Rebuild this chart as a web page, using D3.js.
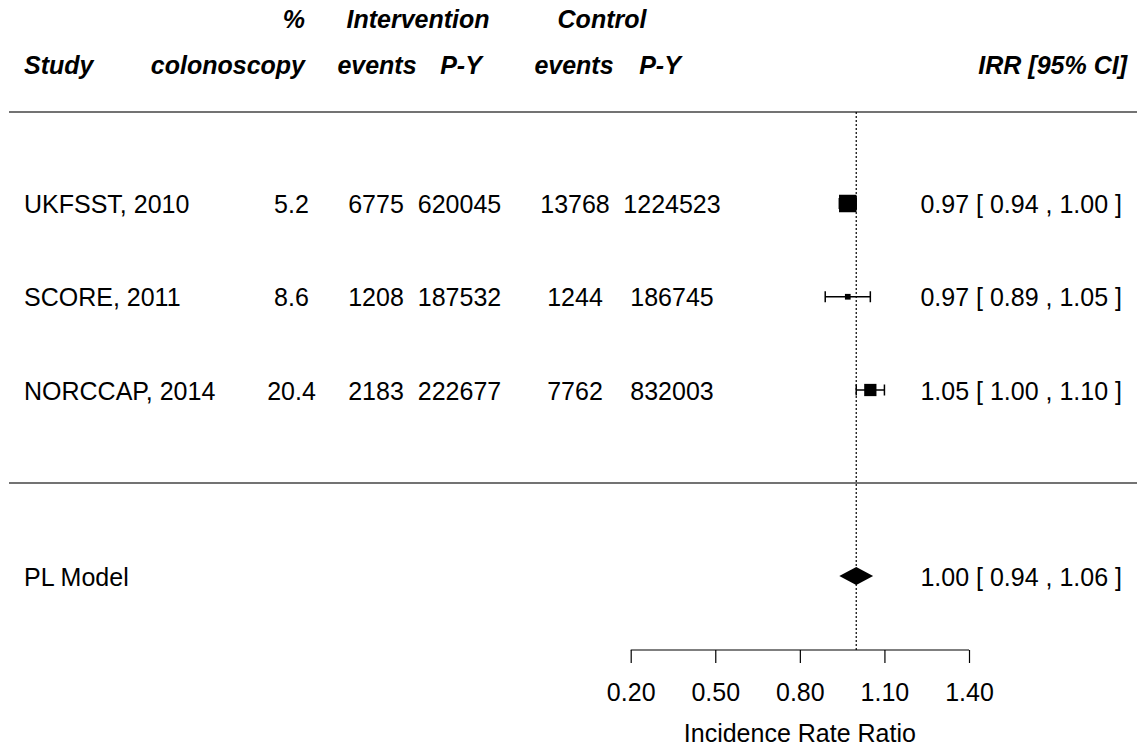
<!DOCTYPE html>
<html>
<head>
<meta charset="utf-8">
<script src="https://cdn.jsdelivr.net/npm/d3@7"></script>
<style>
  html, body { margin: 0; padding: 0; background: #fff; }
  svg { display: block; font-family: "Liberation Sans", Arial, sans-serif; }
</style>
</head>
<body>
<svg id="chart" width="1137" height="748"></svg>
<script>
// ---------------- data ----------------
const studies      = ["UKFSST, 2010", "SCORE, 2011", "NORCCAP, 2014"];
const pctColono    = ["5.2", "8.6", "20.4"];
const intEvents    = [6775, 1208, 2183];
const intPY        = [620045, 187532, 222677];
const ctrlEvents   = [13768, 1244, 7762];
const ctrlPY       = [1224523, 186745, 832003];
const irr          = [0.97, 0.97, 1.05];
const ciLow        = [0.94, 0.89, 1.00];
const ciHigh       = [1.00, 1.05, 1.10];
const weights      = [42, 24, 34];          // relative study weights (estimated)
const pooledLabel  = "PL Model";
const pooled       = { est: 1.00, lb: 0.94, ub: 1.06 };
const xTicks       = [0.20, 0.50, 0.80, 1.10, 1.40];
const xTitle       = "Incidence Rate Ratio";
const refValue     = 1;

// ---------------- layout ----------------
const svg = d3.select("#chart");
const FS = 25;
const x = d3.scaleLinear().domain([0.2, 1.4]).range([630.7, 969]);
const rowY = d3.scaleLinear().domain([0, 2]).range([203.5, 390]);
const pooledY = 576;
const size = d3.scaleLinear().domain(d3.extent(weights)).range([5.7, 17.5]);
const fmt2 = d3.format(".2f");

// header
const hdr = svg.append("g").attr("font-size", FS).attr("font-weight", "bold").attr("font-style", "italic").attr("fill", "#000");
const headerItems = [
  { t: "%", x: 305, y: 28, a: "end" },
  { t: "Intervention", x: 418, y: 28, a: "middle" },
  { t: "Control", x: 602, y: 28, a: "middle" },
  { t: "Study", x: 24, y: 74, a: "start" },
  { t: "colonoscopy", x: 305, y: 74, a: "end" },
  { t: "events", x: 377, y: 74, a: "middle" },
  { t: "P-Y", x: 461, y: 74, a: "middle" },
  { t: "events", x: 574, y: 74, a: "middle" },
  { t: "P-Y", x: 660, y: 74, a: "middle" },
  { t: "IRR [95% CI]", x: 1127, y: 74, a: "end" }
];
hdr.selectAll("text").data(headerItems).join("text")
  .attr("x", d => d.x).attr("y", d => d.y).attr("text-anchor", d => d.a).text(d => d.t);

// separator lines
svg.selectAll("line.sep").data([112, 483]).join("line").attr("class", "sep")
  .attr("x1", 9).attr("x2", 1137).attr("y1", d => d).attr("y2", d => d)
  .attr("stroke", "#444").attr("stroke-width", 1.5);

// reference line
svg.append("line")
  .attr("x1", x(refValue)).attr("x2", x(refValue))
  .attr("y1", 112).attr("y2", 650)
  .attr("stroke", "#000").attr("stroke-width", 1.2).attr("stroke-dasharray", "2,2");

// study rows text
const txt = svg.append("g").attr("font-size", FS).attr("fill", "#000");
const rows = studies.map((s, i) => ({ i, s }));
const cols = [
  { x: 24, a: "start", f: d => studies[d.i] },
  { x: 291.5, a: "middle", f: d => pctColono[d.i] },
  { x: 376, a: "middle", f: d => intEvents[d.i] },
  { x: 459.5, a: "middle", f: d => intPY[d.i] },
  { x: 575, a: "middle", f: d => ctrlEvents[d.i] },
  { x: 672, a: "middle", f: d => ctrlPY[d.i] },
  { x: 1122, a: "end", f: d => `${fmt2(irr[d.i])} [ ${fmt2(ciLow[d.i])} , ${fmt2(ciHigh[d.i])} ]` }
];
cols.forEach(c => {
  txt.selectAll(null).data(rows).join("text")
    .attr("x", c.x).attr("y", d => rowY(d.i) + 9.5)
    .attr("text-anchor", c.a).text(c.f);
});

// CI lines + caps + squares
const marks = svg.append("g");
rows.forEach(d => {
  const y = rowY(d.i);
  marks.append("line").attr("x1", x(ciLow[d.i])).attr("x2", x(ciHigh[d.i]))
    .attr("y1", y).attr("y2", y).attr("stroke", "#000").attr("stroke-width", 1.5);
  [ciLow[d.i], ciHigh[d.i]].forEach(v => {
    marks.append("line").attr("x1", x(v)).attr("x2", x(v))
      .attr("y1", y - 5.5).attr("y2", y + 5.5).attr("stroke", "#000").attr("stroke-width", 1.5);
  });
  const s = size(weights[d.i]);
  marks.append("rect").attr("x", x(irr[d.i]) - s / 2).attr("y", y - s / 2)
    .attr("width", s).attr("height", s).attr("fill", "#000");
});

// pooled
txt.append("text").attr("x", 24).attr("y", pooledY + 9.5).text(pooledLabel);
txt.append("text").attr("x", 1122).attr("y", pooledY + 9.5).attr("text-anchor", "end")
  .text(`${fmt2(pooled.est)} [ ${fmt2(pooled.lb)} , ${fmt2(pooled.ub)} ]`);
svg.append("polygon")
  .attr("points", [
    [x(pooled.lb), pooledY], [x(pooled.est), pooledY - 9],
    [x(pooled.ub), pooledY], [x(pooled.est), pooledY + 9]
  ].map(p => p.join(",")).join(" "))
  .attr("fill", "#000");

// axis
const axis = d3.axisBottom(x).tickValues(xTicks).tickFormat(fmt2).tickSize(13).tickSizeOuter(0).tickPadding(20);
const ax = svg.append("g").attr("transform", "translate(0,650)").call(axis);
ax.select(".domain").attr("stroke", "#000").attr("stroke-width", 1.2).attr("d", `M${x(0.2)},0H${x(1.4)}`);
ax.selectAll(".tick line").attr("stroke", "#000").attr("stroke-width", 1.2);
ax.selectAll(".tick text").attr("font-size", FS).attr("font-family", "Liberation Sans, Arial, sans-serif").attr("fill", "#000");
svg.append("text").attr("x", x(0.8)).attr("y", 742).attr("text-anchor", "middle")
  .attr("font-size", FS).attr("fill", "#000").text(xTitle);
</script>
</body>
</html>
